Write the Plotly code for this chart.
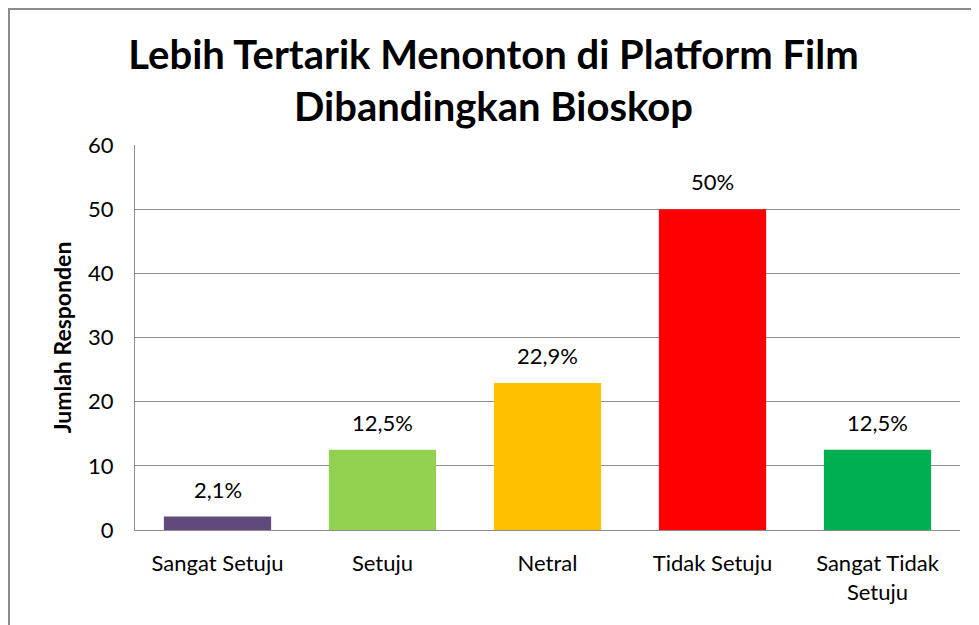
import plotly.graph_objects as go

categories = ["Sangat Setuju", "Setuju", "Netral", "Tidak Setuju", "Sangat Tidak<br>Setuju"]
values = [2.1, 12.5, 22.9, 50, 12.5]
labels = ["2,1%", "12,5%", "22,9%", "50%", "12,5%"]
colors = ["#604A7B", "#92D050", "#FFC000", "#FF0000", "#00B050"]
yticks = [0, 10, 20, 30, 40, 50, 60]

# page body has an 8px offset; compensate
OFF = 8
W, H = 979 - OFF, 625 - OFF
L, R, T, B = 135 - OFF, 19, 145 - OFF, 95
pw, ph = W - L - R, H - T - B

fig = go.Figure(go.Bar(
    x=categories, y=values, marker=dict(color=colors, line=dict(width=0)),
    cliponaxis=False, hoverinfo="x+y",
))

for c, v, t in zip(categories, values, labels):
    fig.add_annotation(x=c, y=v, text=t, showarrow=False, yanchor="bottom", yshift=12,
                       font=dict(size=22, color="black", family="Lato"))

fig.update_layout(
    width=W, height=H,
    margin=dict(l=L, r=R, t=T, b=B),
    paper_bgcolor="white", plot_bgcolor="white",
    bargap=0.35,
    font=dict(family="Lato", color="black"),
    title=dict(text="<b>Lebih Tertarik Menonton di Platform Film<br>Dibandingkan Bioskop</b>",
               x=0.5, xanchor="center", y=1 - (69 - OFF) / H, yanchor="middle",
               font=dict(size=40, family="Lato", color="black")),
    showlegend=False,
)
fig.update_yaxes(range=[0, 60], tickvals=yticks, showgrid=True, gridcolor="#8c8c8c", gridwidth=1,
                 showline=True, linecolor="#8c8c8c", linewidth=1, ticks="", ticklen=0,
                 ticklabelstandoff=16,
                 tickfont=dict(size=22), zeroline=False,
                 title=dict(text="<b>Jumlah Responden</b>", font=dict(size=23), standoff=10))
fig.update_xaxes(showline=True, linecolor="#8c8c8c", linewidth=1, ticks="",
                 ticklabelstandoff=14, tickfont=dict(size=22))

x0 = (1 - L) / pw
y1 = 1 + (T - 1) / ph
fig.add_shape(type="rect", xref="paper", yref="paper", x0=x0, x1=1.1, y0=-0.4, y1=y1,
              line=dict(color="#8c8c8c", width=2), layer="below")

fig.write_html("out.html")
